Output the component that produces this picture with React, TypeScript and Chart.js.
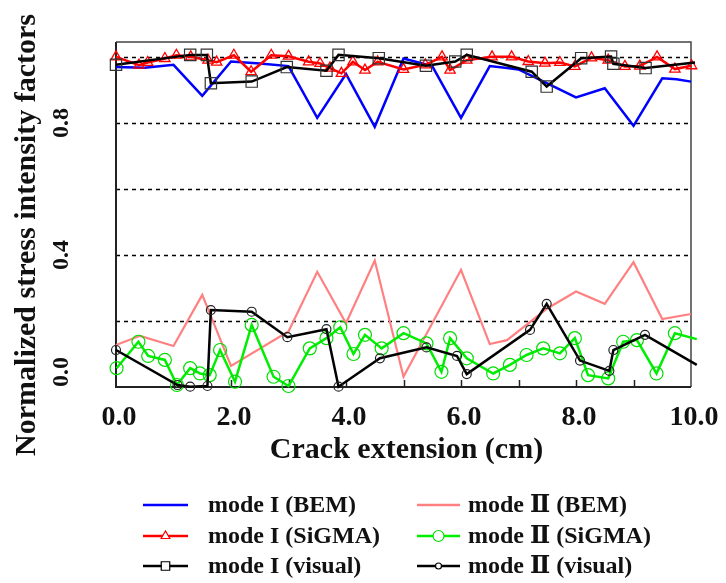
import React, { useEffect, useRef } from "react";
import { Chart, registerables } from "chart.js";

Chart.register(...registerables);

// ---- data ----
const modeIBemX = [0, 0.5, 1.0, 1.5, 2.0, 2.5, 3.0, 3.5, 4.0, 4.5, 5.0, 5.5, 6.0, 6.5, 6.8, 7.0, 7.5, 8.0, 8.5, 9.0, 9.5, 9.75, 10.0];
const modeIBemY = [0.969, 0.967, 0.976, 0.882, 0.986, 0.98, 0.972, 0.815, 0.948, 0.788, 0.995, 0.972, 0.815, 0.972, 0.966, 0.962, 0.92, 0.877, 0.905, 0.791, 0.935, 0.932, 0.925];

const modeISigmaX = [0, 0.4, 0.55, 0.85, 1.05, 1.3, 1.6, 1.75, 2.05, 2.35, 2.7, 3.0, 3.35, 3.55, 3.72, 3.92, 4.12, 4.33, 4.55, 5.0, 5.38, 5.67, 5.81, 6.1, 6.54, 6.88, 7.17, 7.46, 7.72, 7.98, 8.27, 8.56, 8.85, 9.11, 9.41, 9.72, 10.01];
const modeISigmaY = [1.0, 0.975, 0.983, 0.995, 1.005, 1.0, 0.99, 0.984, 1.005, 0.955, 1.005, 1.002, 0.985, 0.98, 0.966, 0.95, 0.985, 0.96, 0.985, 0.962, 0.976, 1.0, 0.96, 0.99, 1.0, 1.0, 0.986, 0.981, 0.983, 0.971, 0.997, 0.99, 0.971, 0.972, 1.0, 0.963, 0.973];

const modeIVisualX = [0, 1.29, 1.58, 1.65, 2.36, 2.97, 3.66, 3.87, 4.57, 5.39, 5.9, 6.1, 7.23, 7.49, 8.09, 8.61, 8.65, 9.21, 10.07];
const modeIVisualY = [0.976, 1.006, 1.006, 0.92, 0.925, 0.969, 0.958, 1.006, 0.996, 0.973, 0.986, 1.006, 0.955, 0.91, 0.996, 1.001, 0.979, 0.966, 0.983];

const modeIIBemX = [0, 0.42, 1.0, 1.5, 2.0, 3.0, 3.5, 4.0, 4.5, 5.0, 6.0, 6.5, 6.8, 7.5, 8.0, 8.5, 9.0, 9.5, 10.0];
const modeIIBemY = [0.127, 0.155, 0.124, 0.279, 0.064, 0.168, 0.349, 0.193, 0.383, 0.031, 0.355, 0.13, 0.142, 0.238, 0.289, 0.252, 0.378, 0.206, 0.221];

const modeIISigmaX = [0.01, 0.39, 0.56, 0.85, 1.06, 1.29, 1.46, 1.63, 1.81, 2.07, 2.36, 2.74, 3.0, 3.37, 3.66, 3.9, 4.13, 4.33, 4.62, 5.0, 5.4, 5.66, 5.81, 6.1, 6.56, 6.85, 7.14, 7.43, 7.72, 7.98, 8.21, 8.56, 8.82, 9.06, 9.4, 9.72, 10.1];
const modeIISigmaY = [0.057, 0.137, 0.094, 0.082, 0.006, 0.057, 0.041, 0.036, 0.112, 0.016, 0.188, 0.031, 0.003, 0.117, 0.148, 0.181, 0.1, 0.158, 0.117, 0.163, 0.132, 0.046, 0.148, 0.087, 0.041, 0.067, 0.097, 0.117, 0.102, 0.148, 0.036, 0.026, 0.137, 0.142, 0.041, 0.163, 0.145];

const modeIIVisualX = [0, 1.07, 1.29, 1.59, 1.65, 2.36, 2.98, 3.66, 3.87, 4.59, 5.4, 5.93, 6.1, 7.2, 7.49, 8.07, 8.58, 8.65, 9.2, 10.1];
const modeIIVisualY = [0.112, 0.006, 0.001, 0.003, 0.233, 0.228, 0.151, 0.175, 0.001, 0.087, 0.12, 0.094, 0.039, 0.173, 0.252, 0.08, 0.049, 0.112, 0.158, 0.067];

const xTickValues = [0, 2, 4, 6, 8, 10];
const xTickLabels = ["0.0", "2.0", "4.0", "6.0", "8.0", "10.0"];
const xMarkValues = [1, 2, 3, 4, 5, 6, 7, 8, 9];
const yTickValues = [0, 0.4, 0.8];
const yTickLabels = ["0.0", "0.4", "0.8"];
const yGridValues = [0.2, 0.4, 0.6, 0.8, 1.0];

const xTitle = "Crack extension (cm)";
const yTitle = "Normalized stress intensity factors";

const legendLeft = ["mode I (BEM)", "mode I (SiGMA)", "mode I (visual)"];
const legendRight = ["mode Ⅱ (BEM)", "mode Ⅱ (SiGMA)", "mode Ⅱ (visual)"];

const SERIF = "'Liberation Serif', 'Times New Roman', 'DejaVu Serif', serif";

type Marker = { style: string; radius: number; color: string; width: number } | null;

function drawMarker(ctx: CanvasRenderingContext2D, x: number, y: number, m: Marker) {
  if (!m) return;
  ctx.save();
  ctx.strokeStyle = m.color;
  ctx.lineWidth = m.width;
  ctx.fillStyle = "#ffffff";
  ctx.beginPath();
  const r = m.radius;
  if (m.style === "circle") {
    ctx.arc(x, y, r, 0, Math.PI * 2);
  } else if (m.style === "rect") {
    const s = r * Math.SQRT1_2;
    ctx.rect(x - s, y - s, 2 * s, 2 * s);
  } else if (m.style === "triangle") {
    const h = r * 1.5;
    ctx.moveTo(x - r * 0.87, y + r * 0.5);
    ctx.lineTo(x + r * 0.87, y + r * 0.5);
    ctx.lineTo(x, y + r * 0.5 - h);
    ctx.closePath();
  }
  ctx.fill();
  ctx.stroke();
  ctx.restore();
}

const legendLeftStyles = [
  { color: "#0000ff", width: 2.5, marker: null as Marker },
  { color: "#ff0000", width: 2.5, marker: { style: "triangle", radius: 5, color: "#ff0000", width: 1.2 } as Marker },
  { color: "#000000", width: 2.5, marker: { style: "rect", radius: 6, color: "#000000", width: 1.2 } as Marker },
];
const legendRightStyles = [
  { color: "#ff8080", width: 2.5, marker: null as Marker },
  { color: "#00ee00", width: 2.5, marker: { style: "circle", radius: 5.5, color: "#00dd00", width: 1.2 } as Marker },
  { color: "#000000", width: 2.5, marker: { style: "circle", radius: 3, color: "#000000", width: 1.2 } as Marker },
];

const decorPlugin = {
  id: "decor",
  beforeDatasetsDraw(chart: any) {
    const { ctx, chartArea: a, scales } = chart;
    const y = scales.y;
    ctx.save();
    // dashed grid lines
    ctx.strokeStyle = "#000000";
    ctx.lineWidth = 1.5;
    ctx.setLineDash([4, 4]);
    for (const v of yGridValues) {
      const py = Math.round(y.getPixelForValue(v)) + 0.5;
      ctx.beginPath();
      ctx.moveTo(a.left, py);
      ctx.lineTo(a.right, py);
      ctx.stroke();
    }
    ctx.setLineDash([]);
    // frame: top & right
    ctx.strokeStyle = "#444444";
    ctx.lineWidth = 1.5;
    ctx.beginPath();
    ctx.moveTo(a.left, a.top);
    ctx.lineTo(a.right, a.top);
    ctx.lineTo(a.right, a.bottom);
    ctx.stroke();
    // axes: left & bottom
    ctx.strokeStyle = "#222222";
    ctx.lineWidth = 2;
    ctx.beginPath();
    ctx.moveTo(a.left, a.top);
    ctx.lineTo(a.left, a.bottom);
    ctx.lineTo(a.right, a.bottom);
    ctx.stroke();
    // inward tick marks on x axis
    const x = scales.x;
    ctx.lineWidth = 1.5;
    for (const v of xMarkValues) {
      const px = Math.round(x.getPixelForValue(v)) + 0.5;
      ctx.beginPath();
      ctx.moveTo(px, a.bottom);
      ctx.lineTo(px, a.bottom - 7);
      ctx.stroke();
    }
    ctx.restore();
  },
  afterDraw(chart: any) {
    const { ctx, chartArea: a, scales } = chart;
    const x = scales.x;
    const y = scales.y;
    ctx.save();
    ctx.fillStyle = "#111111";
    // x tick labels
    ctx.font = `bold 28px ${SERIF}`;
    ctx.textAlign = "center";
    ctx.textBaseline = "alphabetic";
    xTickValues.forEach((v, i) => {
      ctx.fillText(xTickLabels[i], x.getPixelForValue(v) + 3, 425);
    });
    // x title
    ctx.font = `bold 30px ${SERIF}`;
    ctx.fillText(xTitle, (a.left + a.right) / 2 + 3, 458);
    // y tick labels (rotated)
    ctx.textBaseline = "middle";
    ctx.font = `bold 24px ${SERIF}`;
    yTickValues.forEach((v, i) => {
      const w = ctx.measureText(yTickLabels[i]).width;
      const py = Math.min(y.getPixelForValue(v), a.bottom - w / 2);
      ctx.save();
      ctx.translate(62, py);
      ctx.rotate(-Math.PI / 2);
      ctx.fillText(yTickLabels[i], 0, 0);
      ctx.restore();
    });
    // y title
    ctx.font = `bold 30px ${SERIF}`;
    ctx.save();
    ctx.translate(27, 235);
    ctx.rotate(-Math.PI / 2);
    ctx.fillText(yTitle, 0, 0);
    ctx.restore();
    // legend
    const rows = [505, 536, 566];
    ctx.font = `bold 24px ${SERIF}`;
    ctx.textAlign = "left";
    const drawCol = (labels: string[], styles: any[], lx0: number, lx1: number, tx: number) => {
      labels.forEach((lab, i) => {
        const ry = rows[i];
        const st = styles[i];
        ctx.save();
        ctx.strokeStyle = st.color;
        ctx.lineWidth = st.width;
        ctx.beginPath();
        ctx.moveTo(lx0, ry);
        ctx.lineTo(lx1, ry);
        ctx.stroke();
        ctx.restore();
        drawMarker(ctx, (lx0 + lx1) / 2, ry, st.marker);
        ctx.fillStyle = "#111111";
        ctx.fillText(lab, tx, ry + 1);
      });
    };
    drawCol(legendLeft, legendLeftStyles, 143, 188, 208);
    drawCol(legendRight, legendRightStyles, 417, 460, 468);
    ctx.restore();
  },
};

function toPoints(xs: number[], ys: number[]) {
  return xs.map((v, i) => ({ x: v, y: ys[i] }));
}

function hideLast(n: number, r: number) {
  return (c: any) => (c.dataIndex === n - 1 ? 0 : r);
}

export default function App() {
  const ref = useRef<HTMLCanvasElement | null>(null);

  useEffect(() => {
    if (!ref.current) return;
    const common = { tension: 0, fill: false, clip: false as any, pointBackgroundColor: "rgba(0,0,0,0)", pointHoverRadius: 0 };
    const chart = new Chart(ref.current, {
      type: "line",
      data: {
        datasets: [
          {
            ...common,
            label: "mode Ⅱ (visual)",
            data: toPoints(modeIIVisualX, modeIIVisualY),
            borderColor: "#000000",
            borderWidth: 2.5,
            pointStyle: "circle",
            pointRadius: hideLast(modeIIVisualX.length, 4.5),
            pointBorderColor: "#222222",
            pointBorderWidth: 1.2,
          },
          {
            ...common,
            label: "mode I (visual)",
            data: toPoints(modeIVisualX, modeIVisualY),
            borderColor: "#000000",
            borderWidth: 2.5,
            pointStyle: "rect",
            pointRadius: hideLast(modeIVisualX.length, 8),
            pointBorderColor: "#333333",
            pointBorderWidth: 1.2,
          },
          {
            ...common,
            label: "mode I (SiGMA)",
            data: toPoints(modeISigmaX, modeISigmaY),
            borderColor: "#ff0000",
            borderWidth: 2.5,
            pointStyle: "triangle",
            pointRadius: 6,
            pointBorderColor: "#ff0000",
            pointBorderWidth: 1.3,
          },
          {
            ...common,
            label: "mode Ⅱ (SiGMA)",
            data: toPoints(modeIISigmaX, modeIISigmaY),
            borderColor: "#00ee00",
            borderWidth: 2.5,
            pointStyle: "circle",
            pointRadius: hideLast(modeIISigmaX.length, 6.5),
            pointBorderColor: "#00dd00",
            pointBorderWidth: 1.2,
          },
          {
            ...common,
            label: "mode I (BEM)",
            data: toPoints(modeIBemX, modeIBemY),
            borderColor: "#0000ff",
            borderWidth: 2.5,
            pointRadius: 0,
          },
          {
            ...common,
            label: "mode Ⅱ (BEM)",
            data: toPoints(modeIIBemX, modeIIBemY),
            borderColor: "#ff8080",
            borderWidth: 2.2,
            pointRadius: 0,
          },
        ],
      },
      options: {
        animation: false,
        responsive: true,
        maintainAspectRatio: false,
        events: [],
        layout: { padding: { left: 116, top: 42, right: 35, bottom: 196 } },
        plugins: { legend: { display: false }, tooltip: { enabled: false } },
        scales: {
          x: { type: "linear", min: 0, max: 10, display: false },
          y: { type: "linear", min: 0, max: 1.045, display: false },
        },
      },
      plugins: [decorPlugin],
    });
    return () => chart.destroy();
  }, []);

  return (
    <div style={{ position: "fixed", left: 0, top: 0, width: 726, height: 583, background: "#ffffff" }}>
      <canvas ref={ref} />
    </div>
  );
}
